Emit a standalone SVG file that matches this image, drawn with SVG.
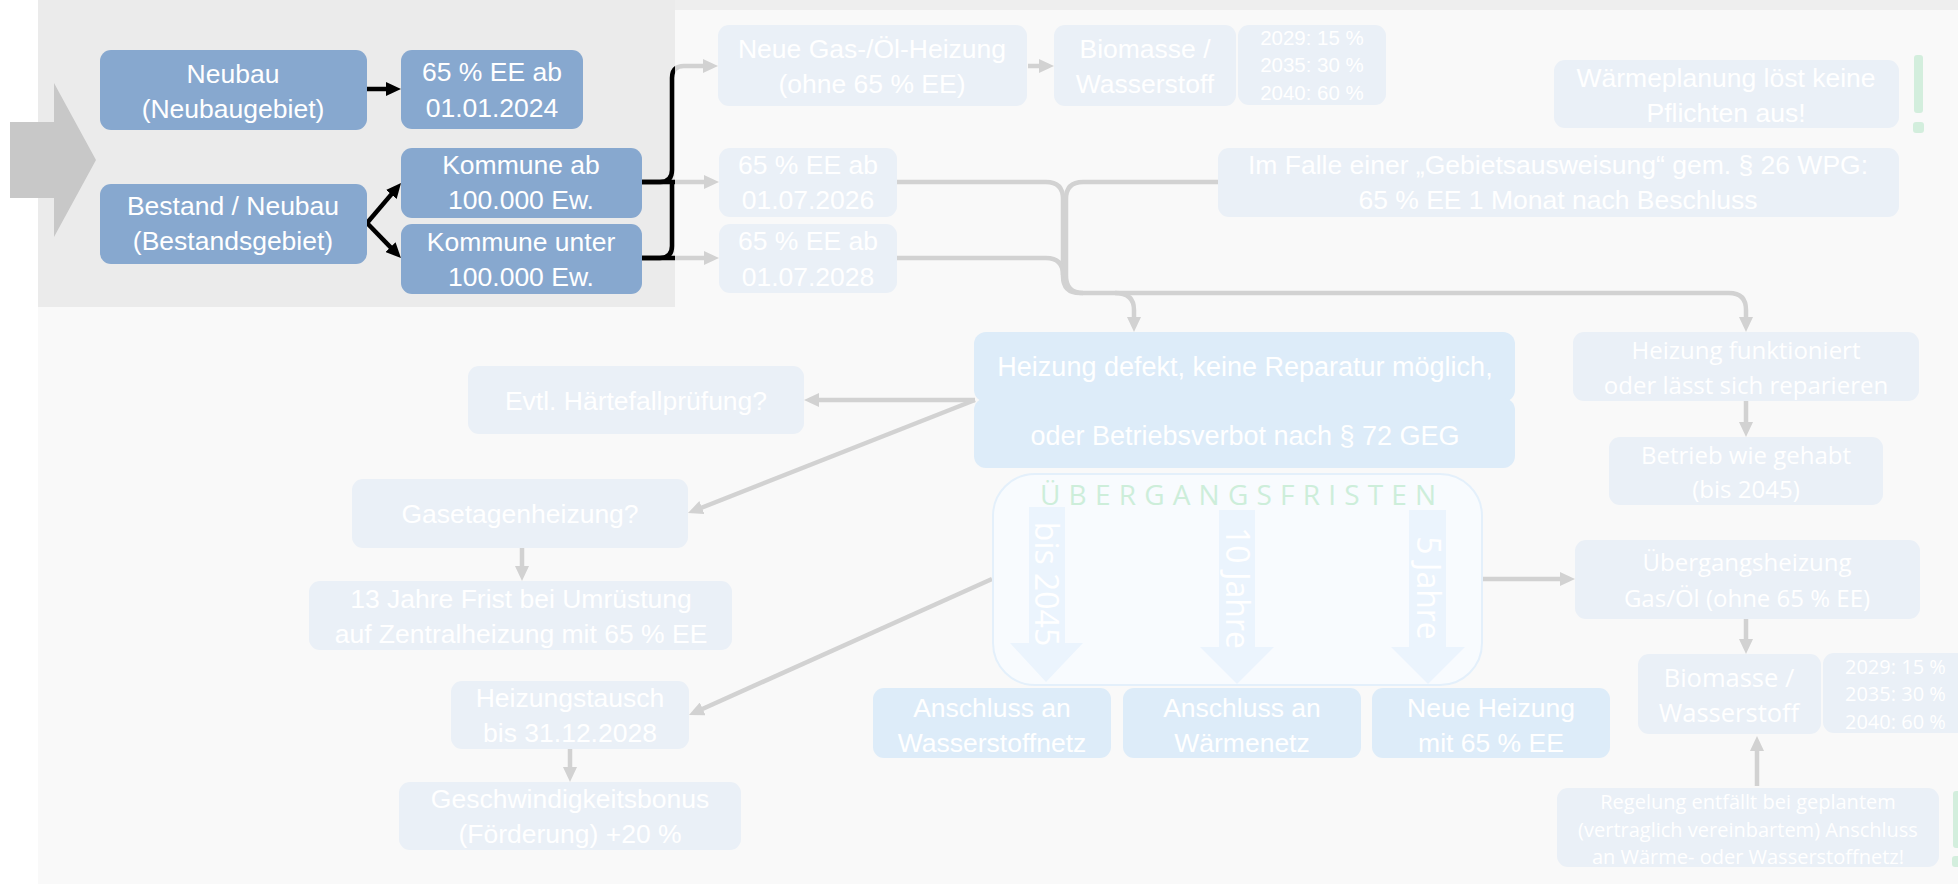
<svg xmlns="http://www.w3.org/2000/svg" width="1958" height="884" viewBox="0 0 1958 884">
<defs>
<style>
.t{font-family:"Liberation Sans",Arial,sans-serif;font-size:26.5px;fill:#ffffff;text-anchor:middle}
.o{font-family:"Open Sans","Liberation Sans",sans-serif;font-size:24px;fill:#ffffff;text-anchor:middle}
.bx{fill:#87a8cf}
.fb{fill:#eaf0f7}
.lb{fill:#ddecf9}
.bk{fill:none;stroke:#000000;stroke-width:4.5}
.gy{fill:none;stroke:#d2d2d2;stroke-width:4.5}
.ex{fill:#d3eedd}
.ba{fill:#ebf4fd}
</style>
<marker id="mb" markerUnits="userSpaceOnUse" markerWidth="15" markerHeight="14" refX="4" refY="7" orient="auto"><path d="M0,0L15,7L0,14z" fill="#000000"/></marker>
<marker id="mg" markerUnits="userSpaceOnUse" markerWidth="15" markerHeight="14" refX="4" refY="7" orient="auto"><path d="M0,0L15,7L0,14z" fill="#d2d2d2"/></marker>
<clipPath id="panel"><rect x="0" y="0" width="675" height="307"/></clipPath>
</defs>

<g id="background">
<rect width="1958" height="884" fill="#ffffff"/>
<rect x="38" width="1920" height="884" fill="#f9f9f9"/>
<rect x="38" width="1920" height="10" fill="#eeeeee"/>
<rect x="38" width="637" height="307" fill="#ebebeb"/>
<polygon points="10,122 54,122 54,83 96,160 54,237 54,198 10,198" fill="#c8c8c8"/>
</g>

<g id="connectors">
<path class="gy" d="M642,182H708" marker-end="url(#mg)"/>
<path class="gy" d="M642,258H708" marker-end="url(#mg)"/>
<path class="gy" d="M642,182H660Q672,182 672,170V78Q672,66 684,66H707" marker-end="url(#mg)"/>
<path class="gy" d="M642,258H660Q672,258 672,246V182"/>
<g clip-path="url(#panel)">
<path class="bk" d="M642,182H708"/>
<path class="bk" d="M642,258H708"/>
<path class="bk" d="M642,182H660Q672,182 672,170V78Q672,66 684,66H707"/>
<path class="bk" d="M642,258H660Q672,258 672,246V182"/>
</g>
<path class="bk" d="M367,89H390" marker-end="url(#mb)"/>
<path class="bk" d="M367,223L393.9,191.4" marker-end="url(#mb)"/>
<path class="bk" d="M367,223L393.3,250.1" marker-end="url(#mb)"/>

<path class="gy" d="M1028,66H1043" marker-end="url(#mg)"/>
<path class="gy" d="M897,182H1046Q1063,182 1063,199V276Q1063,293 1080,293H1729Q1746,293 1746,310V321" marker-end="url(#mg)"/>
<path class="gy" d="M897,258H1046Q1063,258 1063,275"/>
<path class="gy" d="M1218,182H1083Q1066,182 1066,199V276Q1066,293 1083,293"/>
<path class="gy" d="M1115,293Q1134,293 1134,310V321" marker-end="url(#mg)"/>

<path class="gy" d="M975,400H815" marker-end="url(#mg)"/>
<path class="gy" d="M975,400L698.2,509" marker-end="url(#mg)"/>
<path class="gy" d="M522,548V570" marker-end="url(#mg)"/>
<path class="gy" d="M992,579L699,710.5" marker-end="url(#mg)"/>
<path class="gy" d="M570,749V771" marker-end="url(#mg)"/>
<path class="gy" d="M1746,401V426" marker-end="url(#mg)"/>
<path class="gy" d="M1483,579H1564" marker-end="url(#mg)"/>
<path class="gy" d="M1746,619V643" marker-end="url(#mg)"/>
<path class="gy" d="M1757,786V747" marker-end="url(#mg)"/>
</g>

<g id="n_neubau"><rect class="bx" x="100" y="50" width="267" height="80" rx="11"/>
<text class="t" x="233" y="83">Neubau</text><text class="t" x="233" y="118">(Neubaugebiet)</text></g>
<g id="n_ee2024"><rect class="bx" x="401" y="50" width="182" height="79" rx="11"/>
<text class="t" x="492" y="81">65 % EE ab</text><text class="t" x="492" y="117">01.01.2024</text></g>
<g id="n_bestand"><rect class="bx" x="100" y="184" width="267" height="80" rx="11"/>
<text class="t" x="233" y="215">Bestand / Neubau</text><text class="t" x="233" y="250">(Bestandsgebiet)</text></g>
<g id="n_kommune_ab"><rect class="bx" x="401" y="148" width="241" height="70" rx="11"/>
<text class="t" x="521" y="174">Kommune ab</text><text class="t" x="521" y="209">100.000 Ew.</text></g>
<g id="n_kommune_unter"><rect class="bx" x="401" y="224" width="241" height="70" rx="11"/>
<text class="t" x="521" y="251">Kommune unter</text><text class="t" x="521" y="286">100.000 Ew.</text></g>

<g id="n_gasoel"><rect class="fb" x="718" y="25" width="309" height="81" rx="11"/>
<text class="t" x="872" y="58">Neue Gas-/Öl-Heizung</text><text class="t" x="872" y="93">(ohne 65 % EE)</text></g>
<g id="n_bio1"><rect class="fb" x="1054" y="25" width="182" height="81" rx="11"/>
<text class="t" x="1145" y="58">Biomasse /</text><text class="t" x="1145" y="93">Wasserstoff</text></g>
<g id="n_quote1"><rect class="fb" x="1238" y="25" width="148" height="80" rx="11"/>
<text class="t" style="font-size:20.5px" x="1312" y="45">2029: 15 %</text><text class="t" style="font-size:20.5px" x="1312" y="72">2035: 30 %</text><text class="t" style="font-size:20.5px" x="1312" y="100">2040: 60 %</text></g>
<g id="n_waermeplanung"><rect class="fb" x="1554" y="60" width="345" height="68" rx="11"/>
<text class="t" x="1726" y="87">Wärmeplanung löst keine</text><text class="t" x="1726" y="122">Pflichten aus!</text></g>
<g id="n_excl1"><rect class="ex" x="1914" y="55" width="9" height="58" rx="3"/><rect class="ex" x="1913" y="122" width="11" height="11" rx="3"/></g>
<g id="n_gebiet"><rect class="fb" x="1218" y="148" width="681" height="69" rx="11"/>
<text class="t" x="1558" y="174">Im Falle einer „Gebietsausweisung“ gem. § 26 WPG:</text><text class="t" x="1558" y="209">65 % EE 1 Monat nach Beschluss</text></g>
<g id="n_ee2026"><rect class="fb" x="719" y="148" width="178" height="69" rx="11"/>
<text class="t" x="808" y="174">65 % EE ab</text><text class="t" x="808" y="209">01.07.2026</text></g>
<g id="n_ee2028"><rect class="fb" x="719" y="224" width="178" height="69" rx="11"/>
<text class="t" x="808" y="250">65 % EE ab</text><text class="t" x="808" y="286">01.07.2028</text></g>

<g id="n_defekt"><rect class="lb" x="974" y="332" width="541" height="70" rx="12"/><rect class="lb" x="974" y="398" width="541" height="70" rx="12"/>
<text class="t" style="font-size:27px" x="1245" y="376">Heizung defekt, keine Reparatur möglich,</text><text class="t" style="font-size:27px" x="1245" y="445">oder Betriebsverbot nach § 72 GEG</text></g>
<g id="n_haerte"><rect class="fb" x="468" y="366" width="336" height="68" rx="11"/>
<text class="t" x="636" y="410">Evtl. Härtefallprüfung?</text></g>
<g id="n_gasetage"><rect class="fb" x="352" y="479" width="336" height="69" rx="11"/>
<text class="t" x="520" y="523">Gasetagenheizung?</text></g>
<g id="n_13jahre"><rect class="fb" x="309" y="581" width="423" height="69" rx="11"/>
<text class="t" x="521" y="608">13 Jahre Frist bei Umrüstung</text><text class="t" x="521" y="643">auf Zentralheizung mit 65 % EE</text></g>
<g id="n_tausch"><rect class="fb" x="451" y="681" width="238" height="68" rx="11"/>
<text class="t" x="570" y="707">Heizungstausch</text><text class="t" x="570" y="742">bis 31.12.2028</text></g>
<g id="n_bonus"><rect class="fb" x="399" y="782" width="342" height="68" rx="11"/>
<text class="t" x="570" y="808">Geschwindigkeitsbonus</text><text class="t" x="570" y="843">(Förderung) +20 %</text></g>

<g id="n_fristen">
<rect x="993" y="474" width="489" height="211" rx="42" fill="#f8fbfe" stroke="#e4f0fb" stroke-width="2"/>
<text x="1040" y="505" style="font-family:'Open Sans','Liberation Sans',sans-serif;font-size:28px;letter-spacing:8.2px" fill="#cdeeda">ÜBERGANGSFRISTEN</text>
<path class="ba" d="M1029,507H1065V643H1083L1046,682L1010,643H1029Z"/>
<path class="ba" d="M1219,510H1255V647H1274L1237,684L1200,647H1219Z"/>
<path class="ba" d="M1409,510H1446V647H1465L1428,684L1391,647H1409Z"/>
<text class="o" style="font-size:32px" transform="translate(1046,584) rotate(90)" dy="11">bis 2045</text>
<text class="o" style="font-size:32px" transform="translate(1237,588) rotate(90)" dy="11">10 Jahre</text>
<text class="o" style="font-size:32px" transform="translate(1428,588) rotate(90)" dy="11">5 Jahre</text>
</g>
<g id="n_h2netz"><rect class="lb" x="873" y="688" width="238" height="70" rx="11"/>
<text class="t" x="992" y="717">Anschluss an</text><text class="t" x="992" y="752">Wasserstoffnetz</text></g>
<g id="n_waermenetz"><rect class="lb" x="1123" y="688" width="238" height="70" rx="11"/>
<text class="t" x="1242" y="717">Anschluss an</text><text class="t" x="1242" y="752">Wärmenetz</text></g>
<g id="n_neue_heizung"><rect class="lb" x="1372" y="688" width="238" height="70" rx="11"/>
<text class="t" x="1491" y="717">Neue Heizung</text><text class="t" x="1491" y="752">mit 65 % EE</text></g>

<g id="n_funktioniert"><rect class="fb" x="1573" y="332" width="346" height="69" rx="11"/>
<text class="o" x="1746" y="359">Heizung funktioniert</text><text class="o" x="1746" y="394">oder lässt sich reparieren</text></g>
<g id="n_betrieb"><rect class="fb" x="1609" y="437" width="274" height="68" rx="11"/>
<text class="o" x="1746" y="464">Betrieb wie gehabt</text><text class="o" x="1746" y="498">(bis 2045)</text></g>
<g id="n_uebergang"><rect class="fb" x="1575" y="540" width="345" height="79" rx="11"/>
<text class="o" x="1747" y="571">Übergangsheizung</text><text class="o" x="1747" y="607">Gas/Öl (ohne 65 % EE)</text></g>
<g id="n_bio2"><rect class="fb" x="1638" y="654" width="183" height="80" rx="11"/>
<text class="o" style="font-size:25.5px" x="1729" y="687">Biomasse /</text><text class="o" style="font-size:25.5px" x="1729" y="722">Wasserstoff</text></g>
<g id="n_quote2"><rect class="fb" x="1823" y="653" width="160" height="80" rx="11"/>
<text class="o" style="font-size:20px;text-anchor:start" x="1845" y="674">2029: 15 %</text><text class="o" style="font-size:20px;text-anchor:start" x="1845" y="701">2035: 30 %</text><text class="o" style="font-size:20px;text-anchor:start" x="1845" y="729">2040: 60 %</text></g>
<g id="n_regelung"><rect class="fb" x="1557" y="788" width="382" height="79" rx="11"/>
<text class="o" style="font-size:20px" x="1748" y="809">Regelung entfällt bei geplantem</text><text class="o" style="font-size:20px" x="1748" y="837">(vertraglich vereinbartem) Anschluss</text><text class="o" style="font-size:20px" x="1748" y="864">an Wärme- oder Wasserstoffnetz!</text></g>
<g id="n_excl2"><rect class="ex" x="1953" y="791" width="9" height="57" rx="3"/><rect class="ex" x="1952" y="856" width="11" height="11" rx="3"/></g>
</svg>
